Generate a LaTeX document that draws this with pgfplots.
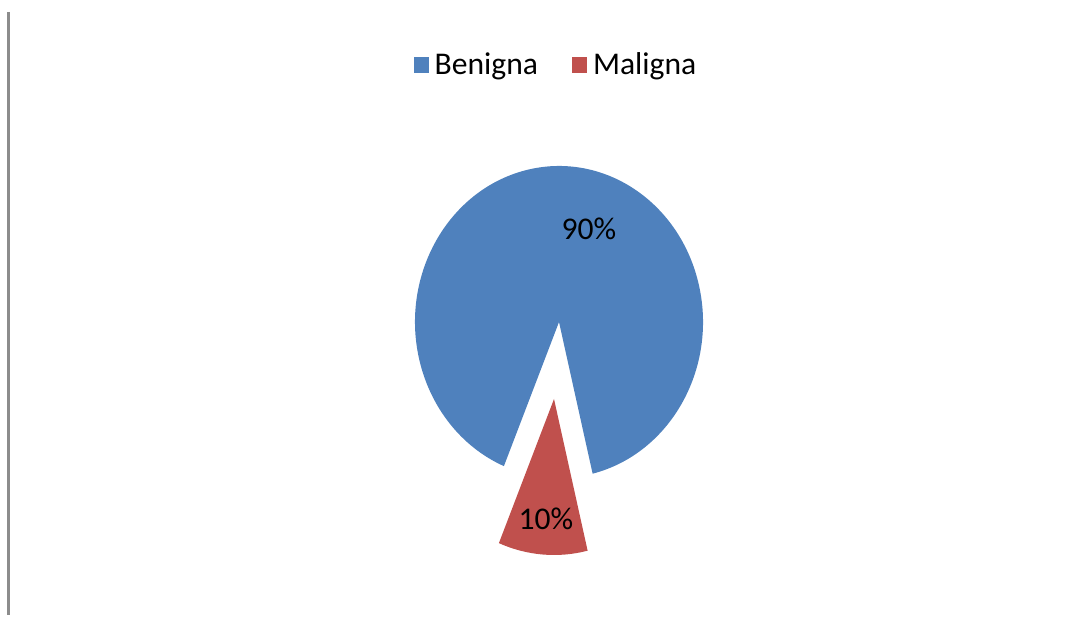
\documentclass[border=0pt]{standalone}
\usepackage{pgfplots}
\pgfplotsset{compat=1.18}
\usepackage{pgfplotstable}
\usepackage{fontspec}
\setmainfont{Carlito}
\definecolor{blueC}{HTML}{4F81BD}
\definecolor{redC}{HTML}{C0504D}
\definecolor{lineC}{HTML}{8C8C8C}
\pgfplotstableread{
label value
Benigna 90
Maligna 10
}\pietable
\begin{document}%
\begin{tikzpicture}
\pgfplotstablegetelem{0}{value}\of\pietable\let\vA\pgfplotsretval
\pgfplotstablegetelem{1}{value}\of\pietable\let\vB\pgfplotsretval
% second slice centred at -94.5 degrees
\pgfmathsetmacro{\midB}{-94.5}
\pgfmathsetmacro{\spanB}{360*\vB/(\vA+\vB)}
\pgfmathsetmacro{\sB}{\midB-\spanB/2}
\pgfmathsetmacro{\eB}{\midB+\spanB/2}
\pgfmathsetmacro{\eA}{\sB+360}
\begin{axis}[
  scale only axis, width=545.5pt, height=307.5pt,
  xmin=0, xmax=1091, ymin=0, ymax=615, y dir=reverse,
  hide axis, clip=false,
  legend columns=2,
  legend style={at={(axis cs:558,65)}, anchor=center, draw=none, fill=none,
    font=\fontsize{15.8}{18}\selectfont,
    /tikz/every even column/.append style={column sep=14pt},
    nodes={inner ysep=1.5pt, inner xsep=3pt}},
  legend image code/.code={\fill[#1, draw=none] (0pt,-4pt) rectangle (7.5pt,4pt);},
]
\path (axis cs:0,0) rectangle (axis cs:1091,615);
\addlegendimage{fill=blueC}
\addlegendentry{Benigna}
\addlegendimage{fill=redC}
\addlegendentry{Maligna}
% blue slice
\fill[blueC] (axis cs:559,322) -- ++(\eB:72pt and 78pt)
  arc[start angle=\eB, end angle=\eA, x radius=72pt, y radius=78pt] -- cycle;
% red slice, exploded
\fill[redC] (axis cs:554,399) -- ++(\sB:72pt and 78pt)
  arc[start angle=\sB, end angle=\eB, x radius=72pt, y radius=78pt] -- cycle;
\node[font=\fontsize{15.8}{18}\selectfont] at (axis cs:589,229) {\vA\%};
\node[font=\fontsize{15.8}{18}\selectfont] at (axis cs:546,519) {\vB\%};
\draw[lineC, line width=1.25pt] (axis cs:8.5,12) -- (axis cs:8.5,615);
\end{axis}
\end{tikzpicture}%
\end{document}
